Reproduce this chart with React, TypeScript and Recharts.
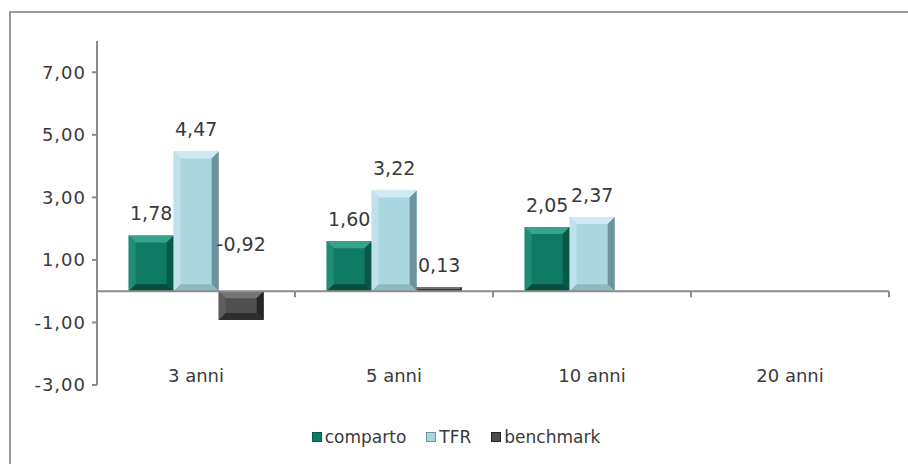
import { BarChart, Bar, XAxis, YAxis, Legend, LabelList, ReferenceLine } from 'recharts';

const categories = ['3 anni', '5 anni', '10 anni', '20 anni'];
const seriesNames = ['comparto', 'TFR', 'benchmark'];
const comparto = [1.78, 1.6, 2.05, null];
const tfr = [4.47, 3.22, 2.37, null];
const benchmark = [-0.92, 0.13, null, null];
const yTicks = [-3, -1, 1, 3, 5, 7];

const data = categories.map((name, i) => ({
  name,
  comparto: comparto[i],
  TFR: tfr[i],
  benchmark: benchmark[i],
}));

const FONT = '"DejaVu Sans", sans-serif';
const fmt = (v: number) => v.toFixed(2).replace('.', ',');

// face, top, left, right, bottom
const shades: Record<string, string[]> = {
  comparto: ['#0f7a64', '#36a48b', '#1e8d74', '#075946', '#064d3d'],
  TFR: ['#aad6e0', '#cdebf1', '#bfe2ea', '#6d949c', '#8db8c2'],
  benchmark: ['#4f4f4f', '#747474', '#5e5e5e', '#262626', '#2e2e2e'],
};

const bevelShape = (key: string) => (props: any) => {
  const { x, y, width, height } = props;
  if (height == null || width == null || !height) return <g />;
  const top = Math.min(y, y + height);
  const h = Math.abs(height);
  const [face, t, l, r, b] = shades[key];
  const d = Math.max(1, Math.min(7, width / 4, h / 2));
  const x2 = x + width;
  const y2 = top + h;
  return (
    <g>
      <rect x={x} y={top} width={width} height={h} fill={face} />
      <polygon points={`${x},${top} ${x2},${top} ${x2 - d},${top + d} ${x + d},${top + d}`} fill={t} />
      <polygon points={`${x},${top} ${x + d},${top + d} ${x + d},${y2 - d} ${x},${y2}`} fill={l} />
      <polygon points={`${x2},${top} ${x2},${y2} ${x2 - d},${y2 - d} ${x2 - d},${top + d}`} fill={r} />
      <polygon points={`${x},${y2} ${x + d},${y2 - d} ${x2 - d},${y2 - d} ${x2},${y2}`} fill={b} />
    </g>
  );
};

const valueLabel = (props: any) => {
  const { value } = props;
  if (value == null) return null;
  const vb = props.viewBox || props;
  const x = vb.x ?? props.x;
  const y = vb.y ?? props.y;
  const width = vb.width ?? props.width;
  const height = vb.height ?? props.height;
  const top = Math.min(y, y + height);
  const ly = value < 0 ? top - 47 : top - 22;
  return (
    <text x={x + width / 2} y={ly} dy="0.35em" textAnchor="middle" fontFamily={FONT} fontSize={19} fill="#3a3a3a">
      {fmt(value)}
    </text>
  );
};

const zeroLine = (props: any) => {
  const { x1, x2, y1 } = props;
  const n = categories.length;
  const step = (x2 - x1) / n;
  return (
    <g>
      <line x1={x1} x2={x2} y1={y1} y2={y1} stroke="#8c8c8c" strokeWidth={2} />
      {Array.from({ length: n + 1 }, (_, i) => (
        <line key={i} x1={x1 + i * step} x2={x1 + i * step} y1={y1} y2={y1 + 6} stroke="#8c8c8c" strokeWidth={2} />
      ))}
    </g>
  );
};

const categoryTick = (props: any) => {
  const { x, y, payload } = props;
  return (
    <text x={x} y={y - 9} dy="0.35em" textAnchor="middle" fontFamily={FONT} fontSize={18} fill="#3a3a3a">
      {payload.value}
    </text>
  );
};

const legendContent = (props: any) => {
  const payload = [...(props.payload || [])].sort(
    (a: any, b: any) => seriesNames.indexOf(a.value) - seriesNames.indexOf(b.value)
  );
  return (
    <div style={{ display: 'flex', justifyContent: 'center', gap: 20, height: 24, alignItems: 'center', paddingLeft: 12 }}>
      {payload.map((entry: any) => {
        const s = shades[entry.value] || [entry.color];
        return (
          <div key={entry.value} style={{ display: 'flex', alignItems: 'center', fontFamily: FONT, fontSize: 17, color: '#3a3a3a' }}>
            <span style={{ display: 'inline-block', width: 10, height: 10, background: s[0], border: `1px solid ${s[3] || s[0]}`, boxSizing: 'border-box', marginRight: 3 }} />
            {entry.value}
          </div>
        );
      })}
    </div>
  );
};

export default function App() {
  return (
    <div
      style={{
        position: 'fixed',
        left: 9,
        top: 11,
        width: 899,
        height: 453,
        borderLeft: '2px solid #9a9a9a',
        borderTop: '2px solid #9a9a9a',
        boxSizing: 'border-box',
        background: '#fff',
      }}
    >
      <BarChart
        width={897}
        height={451}
        data={data}
        margin={{ top: 28, right: 19, left: 0, bottom: 0 }}
        barCategoryGap="16%"
        barGap={0}
      >
        <XAxis
          dataKey="name"
          axisLine={false}
          tickLine={false}
          tickSize={0}
          tickMargin={0}
          height={55}
          tick={categoryTick}
          interval={0}
        />
        <YAxis
          domain={[-3, 8]}
          ticks={yTicks}
          width={86}
          tickFormatter={fmt}
          axisLine={{ stroke: '#8c8c8c', strokeWidth: 2 }}
          tickLine={{ stroke: '#8c8c8c', strokeWidth: 2 }}
          tickSize={5}
          tickMargin={6}
          tick={{ fontFamily: FONT, fontSize: 18, fill: '#3a3a3a', letterSpacing: 1 }}
          allowDataOverflow
        />
        <ReferenceLine y={0} shape={zeroLine} />
        <Legend verticalAlign="bottom" wrapperStyle={{ bottom: 15, height: 24 }} content={legendContent} />
        <Bar dataKey="comparto" name="comparto" fill={shades.comparto[0]} shape={bevelShape('comparto')} isAnimationActive={false}>
          <LabelList dataKey="comparto" content={valueLabel} />
        </Bar>
        <Bar dataKey="TFR" name="TFR" fill={shades.TFR[0]} shape={bevelShape('TFR')} isAnimationActive={false}>
          <LabelList dataKey="TFR" content={valueLabel} />
        </Bar>
        <Bar dataKey="benchmark" name="benchmark" fill={shades.benchmark[0]} shape={bevelShape('benchmark')} isAnimationActive={false}>
          <LabelList dataKey="benchmark" content={valueLabel} />
        </Bar>
      </BarChart>
    </div>
  );
}
